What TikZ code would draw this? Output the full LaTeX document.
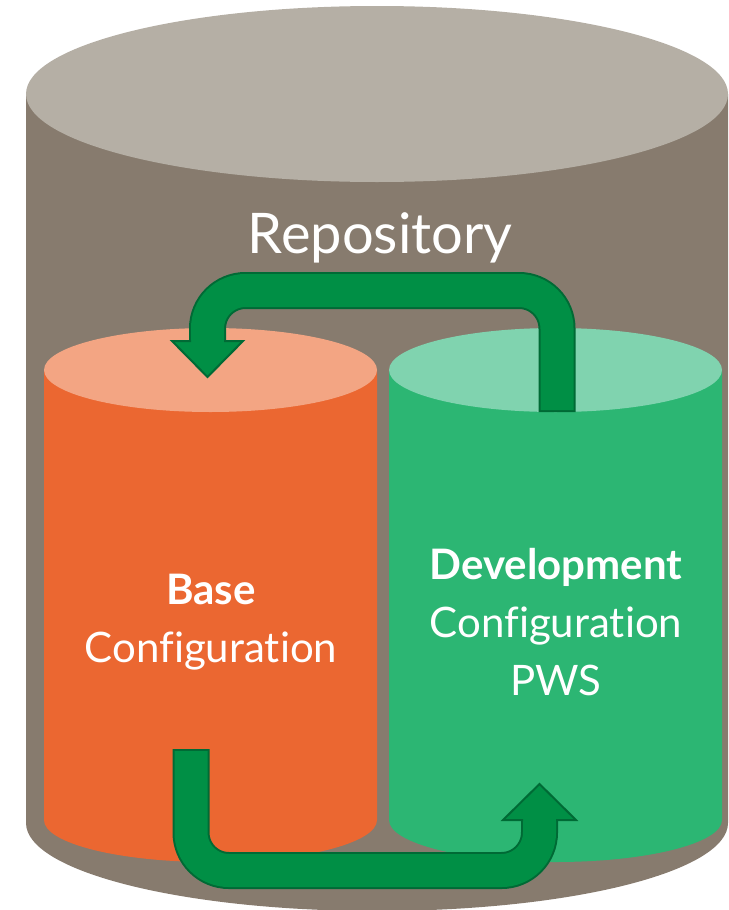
\documentclass[tikz,border=0pt]{standalone}
\usepackage{fontspec}
\setmainfont{Lato}[Ligatures=NoCommon]
\definecolor{repotop}{HTML}{B5AFA5}
\definecolor{repobody}{HTML}{877B6E}
\definecolor{basetop}{HTML}{F3A583}
\definecolor{basebody}{HTML}{EB6731}
\definecolor{devtop}{HTML}{80D3AF}
\definecolor{devbody}{HTML}{2CB673}
\definecolor{flowgreen}{HTML}{008F45}
\definecolor{flowdark}{HTML}{006A35}
\begin{document}
\begin{tikzpicture}[x=1pt,y=-1pt,
  flowedge/.style={draw=flowdark, line width=37pt, rounded corners=38pt, shorten <=-2pt},
  flowbody/.style={draw=flowgreen, line width=33pt, rounded corners=38pt},
  flowtip/.style={draw=flowdark, line width=2pt, line join=miter},
  cyltext/.style={text=white, align=center, font=\fontsize{42}{58}\selectfont}]
\useasboundingbox (0,0) rectangle (728,910);

% Repository
\fill[repobody] (26,94) -- (26,823) arc[start angle=180, end angle=0, x radius=351, y radius=88] -- (728,94) -- cycle;
\fill[repotop] (377,94) ellipse[x radius=351, y radius=88];
\node[text=white, font=\fontsize{56}{60}\selectfont] (repo) at (380,238) {Repository};

% Base and Development
\fill[basebody] (44,370) -- (44,820) arc[start angle=180, end angle=0, x radius=166.5, y radius=42] -- (377,370) -- cycle;
\fill[basetop] (210.5,370) ellipse[x radius=166.5, y radius=42];
\fill[devbody] (389,370) -- (389,820) arc[start angle=180, end angle=0, x radius=166.5, y radius=42] -- (722,370) -- cycle;
\fill[devtop] (555.5,370) ellipse[x radius=166.5, y radius=42];
\node[cyltext] (basetext) at (211,622) {\textbf{Base}\\Configuration};
\node[cyltext] (devtext) at (556,622) {\textbf{Development}\\Configuration\\PWS};

% Connections
\coordinate (devout) at (557,410);
\coordinate (basein) at (207.5,341);
\coordinate (baseout) at (191,751);
\coordinate (devin) at (539.5,820);

\draw[flowedge] (devout) -- ++(0,-119.5) -| (basein);
\draw[flowbody] (devout) -- ++(0,-119.5) -| (basein);
\fill[flowgreen] (basein) ++(-35.5,0) -- ++(35.5,36) -- ++(35.5,-36) -- cycle;
\draw[flowtip] (basein) ++(16.5,0) -- ++(19,0) -- ++(-35.5,36) -- ++(-35.5,-36) -- ++(19,0);

\draw[flowedge] (baseout) -- ++(0,119.5) -| (devin);
\draw[flowbody] (baseout) -- ++(0,119.5) -| (devin);
\fill[flowgreen] (devin) ++(-36.5,0) -- ++(36.5,-36) -- ++(36.5,36) -- cycle;
\draw[flowtip] (devin) ++(16.5,0) -- ++(20,0) -- ++(-36.5,-36) -- ++(-36.5,36) -- ++(20,0);
\end{tikzpicture}
\end{document}
